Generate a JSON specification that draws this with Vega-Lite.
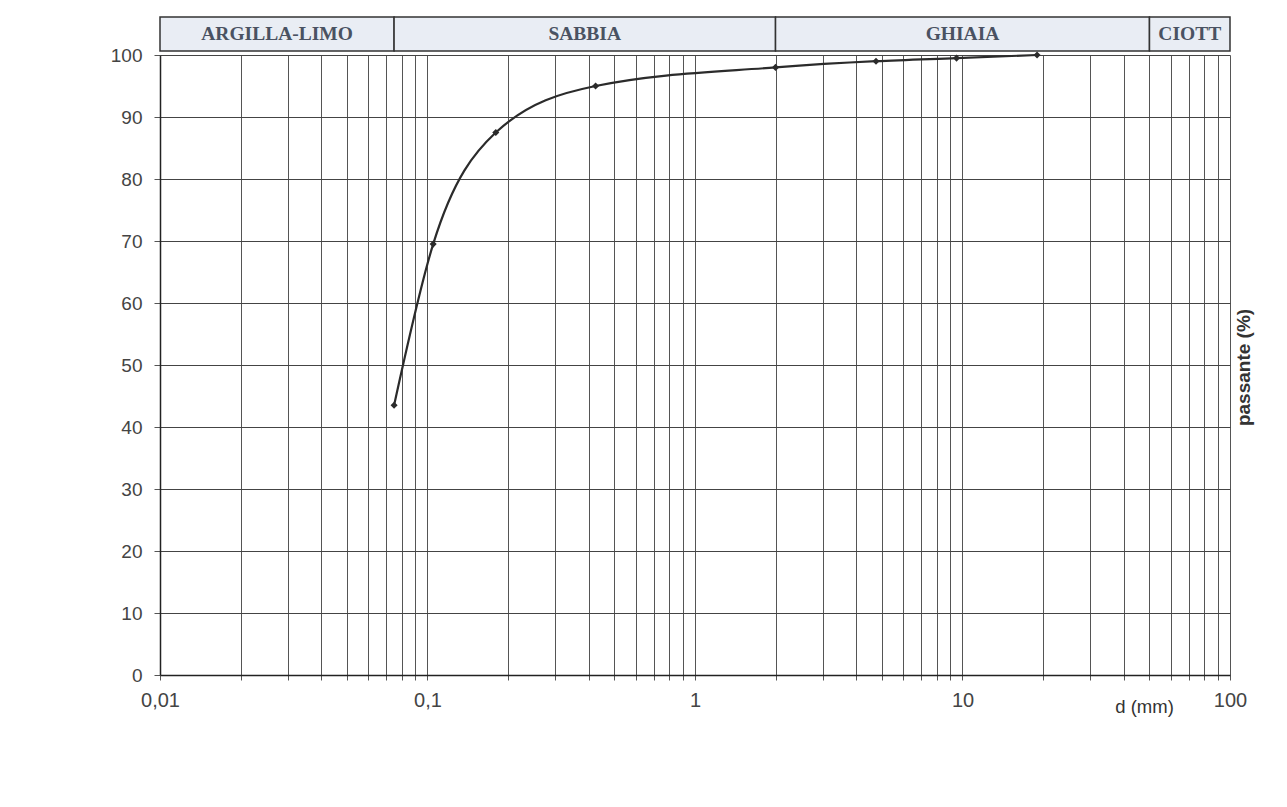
{
  "$schema": "https://vega.github.io/schema/vega-lite/v6.json",
  "padding": {"left": 110, "top": 16, "right": 5, "bottom": 5},
  "background": "white",
  "bounds": "flush",
  "datasets": {
    "bands": [
      {"zona": "ARGILLA-LIMO", "da": 0.01, "a": 0.075, "centro": 0.0274},
      {"zona": "SABBIA", "da": 0.075, "a": 2, "centro": 0.387},
      {"zona": "GHIAIA", "da": 2, "a": 50, "centro": 10},
      {"zona": "CIOTT", "da": 50, "a": 100, "centro": 70.7}
    ],
    "curva": [
      {"d": 0.075, "passante": 43.5},
      {"d": 0.105, "passante": 69.5},
      {"d": 0.18, "passante": 87.5},
      {"d": 0.425, "passante": 95},
      {"d": 2, "passante": 98},
      {"d": 4.75, "passante": 99},
      {"d": 9.5, "passante": 99.5},
      {"d": 19, "passante": 100}
    ]
  },
  "spacing": 4,
  "vconcat": [
    {
      "width": 1070,
      "height": 34,
      "data": {"name": "bands"},
      "view": {"stroke": null},
      "layer": [
        {
          "mark": {"type": "rect", "fill": "#e9edf4", "stroke": "#333333", "strokeWidth": 1.5},
          "encoding": {
            "x": {"field": "da", "type": "quantitative", "scale": {"type": "log", "domain": [0.01, 100], "nice": false}, "axis": null},
            "x2": {"field": "a"}
          }
        },
        {
          "mark": {"type": "text", "font": "Liberation Serif", "fontSize": 19.5, "fontWeight": "bold", "color": "#4a5262", "baseline": "middle", "align": "center"},
          "encoding": {
            "x": {"field": "centro", "type": "quantitative", "scale": {"type": "log", "domain": [0.01, 100], "nice": false}, "axis": null},
            "text": {"field": "zona"}
          }
        }
      ]
    },
    {
      "width": 1070,
      "height": 620,
      "data": {"name": "curva"},
      "view": {"stroke": null},
      "encoding": {
        "x": {
          "field": "d", "type": "quantitative",
          "scale": {"type": "log", "domain": [0.01, 100], "nice": false},
          "axis": {
            "values": [0.01,0.02,0.03,0.04,0.05,0.06,0.07,0.08,0.09,0.1,0.2,0.3,0.4,0.5,0.6,0.7,0.8,0.9,1,2,3,4,5,6,7,8,9,10,20,30,40,50,60,70,80,90,100],
            "labelExpr": "datum.value == 0.01 ? '0,01' : datum.value == 0.1 ? '0,1' : datum.value == 1 ? '1' : datum.value == 10 ? '10' : datum.value == 100 ? '100' : ''",
            "labelOverlap": false,
            "labelFlush": false,
            "labelFont": "Liberation Sans",
            "labelFontSize": 20,
            "labelColor": "#444444",
            "labelPadding": 10,
            "tickSize": 5,
            "tickColor": "#555555",
            "domainColor": "#222222",
            "domainWidth": 1.5,
            "grid": true,
            "gridColor": "#555555",
            "gridWidth": 1,
            "gridOpacity": 1,
            "title": "d (mm)",
            "titleFont": "Liberation Sans",
            "titleFontSize": 18.5,
            "titleFontWeight": "normal",
            "titleColor": "#333333",
            "titleX": 984,
            "titleY": 31,
            "titleAlign": "center",
            "titleBaseline": "middle"
          }
        },
        "y": {
          "field": "passante", "type": "quantitative",
          "scale": {"domain": [0, 100], "nice": false},
          "axis": {
            "values": [0,10,20,30,40,50,60,70,80,90,100],
            "labelFont": "Liberation Sans",
            "labelFontSize": 19,
            "labelColor": "#444444",
            "labelPadding": 12,
            "tickSize": 6,
            "tickColor": "#555555",
            "domainColor": "#222222",
            "domainWidth": 1.5,
            "grid": true,
            "gridColor": "#444444",
            "gridWidth": 1,
            "gridOpacity": 1,
            "title": "passante (%)",
            "titleFont": "Liberation Sans",
            "titleFontSize": 19,
            "titleFontWeight": "bold",
            "titleColor": "#333333",
            "titleX": 1083,
            "titleY": 312,
            "titleAngle": -90,
            "titleAlign": "center",
            "titleBaseline": "middle"
          }
        }
      },
      "layer": [
        {"mark": {"type": "line", "interpolate": "monotone", "color": "#2b2b2b", "strokeWidth": 2.2}},
        {"mark": {"type": "point", "shape": "diamond", "filled": true, "size": 50, "color": "#2b2b2b", "opacity": 1}}
      ]
    }
  ]
}
